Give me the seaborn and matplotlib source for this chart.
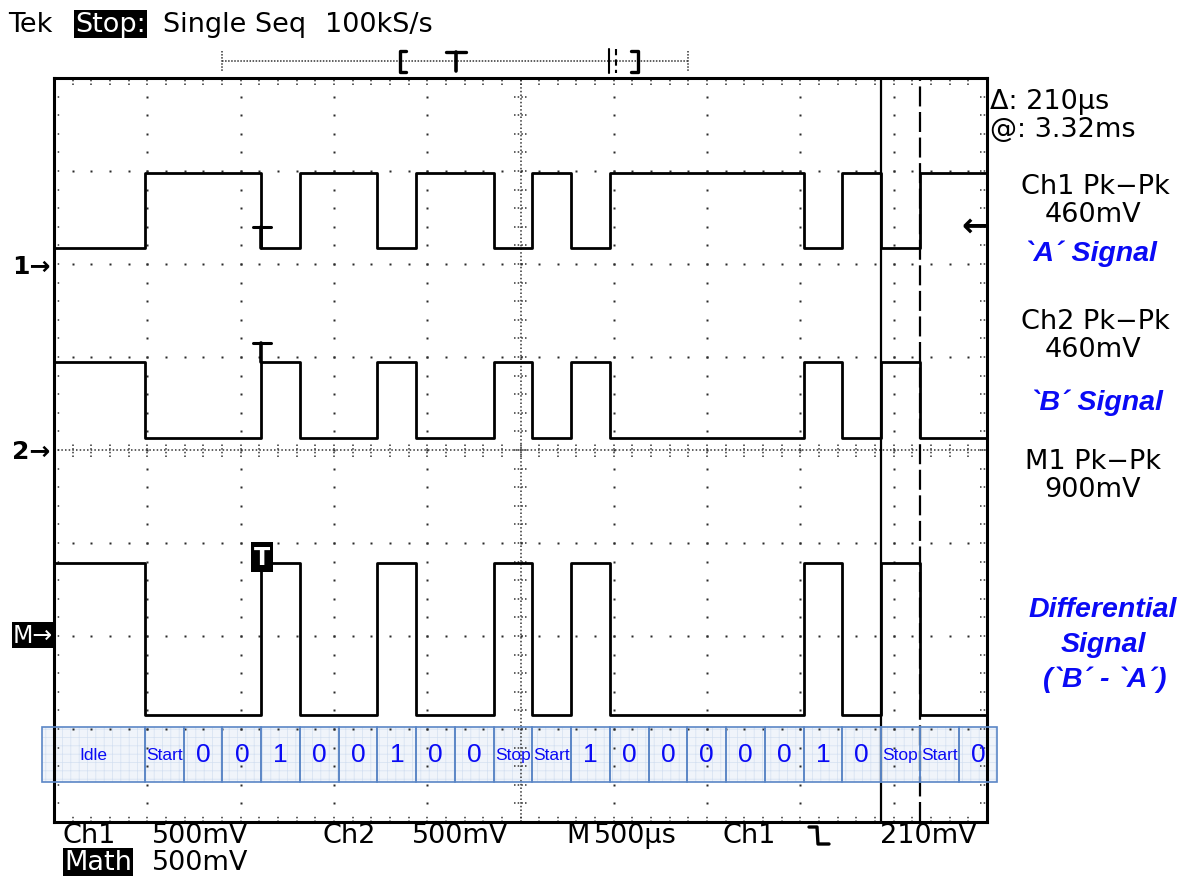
import numpy as np
import pandas as pd
import seaborn as sns
import matplotlib.pyplot as plt
from matplotlib.patches import Rectangle

# bit boxes under the traces, left to right (after the Idle box)
bit_labels = ["Start", "0", "0", "1", "0", "0", "1", "0", "0", "Stop",
              "Start", "1", "0", "0", "0", "0", "0", "1", "0", "Stop",
              "Start", "0"]

# trace levels in volts [low, high], read at 500 mV/div
a_levels = [0.085, 0.49]
b_levels = [0.065, 0.475]

# readouts on the right side
readouts = ["Ch1 Pk\u2212Pk", "460mV", "Ch2 Pk\u2212Pk", "460mV", "M1 Pk\u2212Pk", "900mV"]
notes = ["`A\u00b4 Signal", "`B\u00b4 Signal", "Differential", "Signal", "(`B\u00b4 - `A\u00b4)"]

VOLTS_PER_DIV = 0.5
FIRST_EDGE = 0.975      # div, start of first Start bit
BIT_W = 0.4153          # div per bit
W, H = 1191, 878
SCOPE_FONT = "DejaVu Sans"
BLUE = "#0a0af5"

sns.set_style("white")
plt.rcParams["font.family"] = ["DejaVu Sans"]
plt.rcParams["hatch.linewidth"] = 0.5

fig = plt.figure(figsize=(W / 100, H / 100), dpi=100)
fig.patch.set_facecolor("white")
# screen frame: x 54..987 px, y 79..823 px
ax = fig.add_axes([54 / W, 1 - 823 / H, 933 / W, 744 / H])
ax.set_xlim(0, 10)
ax.set_ylim(-4, 4)
ax.set_xticks([])
ax.set_yticks([])
for s in ax.spines.values():
    s.set_linewidth(2.2)
    s.set_color("black")

# ---- graticule
dot = dict(ls="none", marker="s", ms=1.5, mec="none", mfc="#2a2a2a", zorder=2)
fy = np.round(np.arange(-3.8, 3.81, 0.2), 2)
fx = np.round(np.arange(0.2, 9.81, 0.2), 2)
for gx in [1, 2, 3, 4, 6, 7, 8, 9]:
    ax.plot(np.full(fy.size, gx), fy, **dot)
for gy in [-3, -2, -1, 1, 2, 3]:
    ax.plot(fx, np.full(fx.size, gy), **dot)
dots = (0, (1, 1.4))
ax.axvline(5, ls=dots, lw=1.1, color="#333333", zorder=2)
ax.axhline(0, ls=dots, lw=1.1, color="#333333", zorder=2)
ax.hlines(fy, 4.93, 5.07, linestyles=dots, lw=1.1, color="#333333", zorder=2)
ax.vlines(fx, -0.07, 0.07, linestyles=dots, lw=1.1, color="#333333", zorder=2)
ax.vlines(fx, 3.93, 4, linestyles=dots, lw=1.1, color="#333333", zorder=2)
ax.vlines(fx, -4, -3.93, linestyles=dots, lw=1.1, color="#333333", zorder=2)
ax.hlines(fy, 0, 0.07, linestyles=dots, lw=1.1, color="#333333", zorder=2)
ax.hlines(fy, 9.93, 10, linestyles=dots, lw=1.1, color="#333333", zorder=2)

# ---- traces
edges = [FIRST_EDGE + k * BIT_W for k in range(len(bit_labels))]
a_state = [0] + [1 if b in ("Start", "0") else 0 for b in bit_labels]
xs = [0] + edges + [10]
a_state = a_state + [a_state[-1]]
a_v = [a_levels[s] for s in a_state]
b_v = [b_levels[1 - s] for s in a_state]
m_v = [b - a for a, b in zip(a_v, b_v)]

rows = []
for name, off, vals in [("Ch1", 2.0, a_v), ("Ch2", 0.0, b_v), ("M", -2.0, m_v)]:
    for x, v in zip(xs, vals):
        rows.append({"t": x, "y": off + v / VOLTS_PER_DIV, "trace": name})
df = pd.DataFrame(rows)
sns.lineplot(data=df, x="t", y="y", hue="trace",
             palette={"Ch1": "black", "Ch2": "black", "M": "black"},
             estimator=None, sort=False, drawstyle="steps-post",
             linewidth=2.0, legend=False, ax=ax, zorder=3)
ax.set_xlabel("")
ax.set_ylabel("")
ax.set_xlim(0, 10)
ax.set_ylim(-4, 4)

# trigger markers
trig = edges[3]
ax.plot([trig - 0.09, trig + 0.1], [2.4, 2.4], color="black", lw=2.2, zorder=4)
ax.plot([trig, trig], [2.4, 2.17], color="black", lw=2.6, zorder=4)
ax.plot([trig - 0.09, trig + 0.1], [1.15, 1.15], color="black", lw=2.2, zorder=4)
ax.plot([trig, trig], [1.15, 0.95], color="black", lw=2.6, zorder=4)
ax.text(trig + 0.01, -1.15, "T", ha="center", va="center", color="white",
        fontsize=17, fontweight="bold", zorder=5,
        bbox=dict(boxstyle="square,pad=0.12", fc="black", ec="none"))

# cursors
ax.axvline(edges[19], color="black", lw=1.6, zorder=4)
ax.axvline(edges[20], color="black", lw=1.6, ls=(0, (9, 2.5)), zorder=4)

# ---- bit boxes
box_top, box_bot = -2.978, -3.57
cells = [("Idle", -0.13, FIRST_EDGE)] + [(b, e, e + BIT_W) for b, e in zip(bit_labels, edges)]
for lab, x0, x1 in cells:
    ax.add_patch(Rectangle((x0, box_bot), x1 - x0, box_top - box_bot, fc="#eef3fa",
                           ec="none", alpha=0.85, zorder=1, clip_on=False))
    ax.add_patch(Rectangle((x0, box_bot), x1 - x0, box_top - box_bot, fc="none",
                           ec="#d4e0f1", hatch="++", lw=0, zorder=1, clip_on=False))
    ax.add_patch(Rectangle((x0, box_bot), x1 - x0, box_top - box_bot, fc="none",
                           ec="#5b86c6", lw=1.2, zorder=4, clip_on=False))
    big = lab in ("0", "1")
    ax.text((x0 + x1) / 2, (box_top + box_bot) / 2 + 0.005, lab, ha="center", va="center",
            color=BLUE, fontsize=19 if big else 12.5, family="Liberation Sans",
            zorder=5, clip_on=False)

# ---- overlay in pixel coordinates for the screen annotations
ov = fig.add_axes([0, 0, 1, 1], zorder=10)
ov.set_xlim(0, W)
ov.set_ylim(H, 0)
ov.axis("off")
ov.patch.set_alpha(0)


def txt(x, y, s, ha="left", size=19.5, inverse=False, **kw):
    extra = dict(color="black")
    if inverse:
        extra = dict(color="white", bbox=dict(boxstyle="square,pad=0.05", fc="black", ec="none"))
    ov.text(x, y, s, ha=ha, va="center", fontsize=size, family=SCOPE_FONT,
            fontweight=kw.pop("fontweight", "normal"), **extra, **kw)


# header
txt(8, 25, "Tek")
txt(75, 25, "Stop:", inverse=True)
txt(163, 25, "Single Seq")
txt(325, 25, "100kS/s")
ov.plot([222, 688], [62, 62], ls=(0, (1, 1)), lw=1.1, color="#333333")
ov.plot([222, 222], [52, 72], ls=(0, (1, 1)), lw=1.1, color="#333333")
ov.plot([688, 688], [52, 72], ls=(0, (1, 1)), lw=1.1, color="#333333")
ov.plot([406, 400, 400, 406], [52, 52, 73, 73], color="black", lw=2.4)
ov.plot([446, 466], [53, 53], color="black", lw=2.4)
ov.plot([456, 456], [53, 72], color="black", lw=2.6)
ov.plot([609, 609], [50, 74], color="black", lw=1.5)
ov.plot([616, 616], [50, 74], color="black", lw=1.5, ls=(0, (3, 2)))
ov.plot([631, 638, 638, 631], [52, 52, 73, 73], color="black", lw=2.4)

# left markers
txt(12, 267, "1\u2192", size=18, fontweight="bold")
txt(12, 452, "2\u2192", size=18, fontweight="bold")
txt(13, 636, "M\u2192", size=17, inverse=True)

# trigger level arrow
txt(975, 226, "\u2190", ha="center", size=24, fontweight="bold")

# right readouts
txt(990, 102, "\u0394: 210\u00b5s")
txt(990, 130, "@: 3.32ms")
txt(1095, 187, readouts[0], ha="center")
txt(1093, 215, readouts[1], ha="center")
txt(1095, 322, readouts[2], ha="center")
txt(1093, 350, readouts[3], ha="center")
txt(1093, 462, readouts[4], ha="center")
txt(1093, 490, readouts[5], ha="center")
note_style = dict(ha="center", va="center", fontsize=20.5, color=BLUE, family="Liberation Sans",
                  fontweight="bold", fontstyle="italic")
ov.text(1090, 254, notes[0], **note_style)
ov.text(1096, 403, notes[1], **note_style)
ov.text(1103, 610, notes[2], **note_style)
ov.text(1103, 645, notes[3], **note_style)
ov.text(1105, 680, notes[4], **note_style)

# bottom status line
txt(62, 836, "Ch1")
txt(152, 836, "500mV")
txt(322, 836, "Ch2")
txt(412, 836, "500mV")
txt(566, 836, "M")
txt(594, 836, "500\u00b5s")
txt(723, 836, "Ch1")
ov.plot([809, 817, 818, 829], [828, 828, 845, 845], color="black", lw=2.4)
txt(880, 836, "210mV")
txt(64, 863, "Math", inverse=True)
txt(152, 863, "500mV")

fig.savefig("out.png", dpi=100)
